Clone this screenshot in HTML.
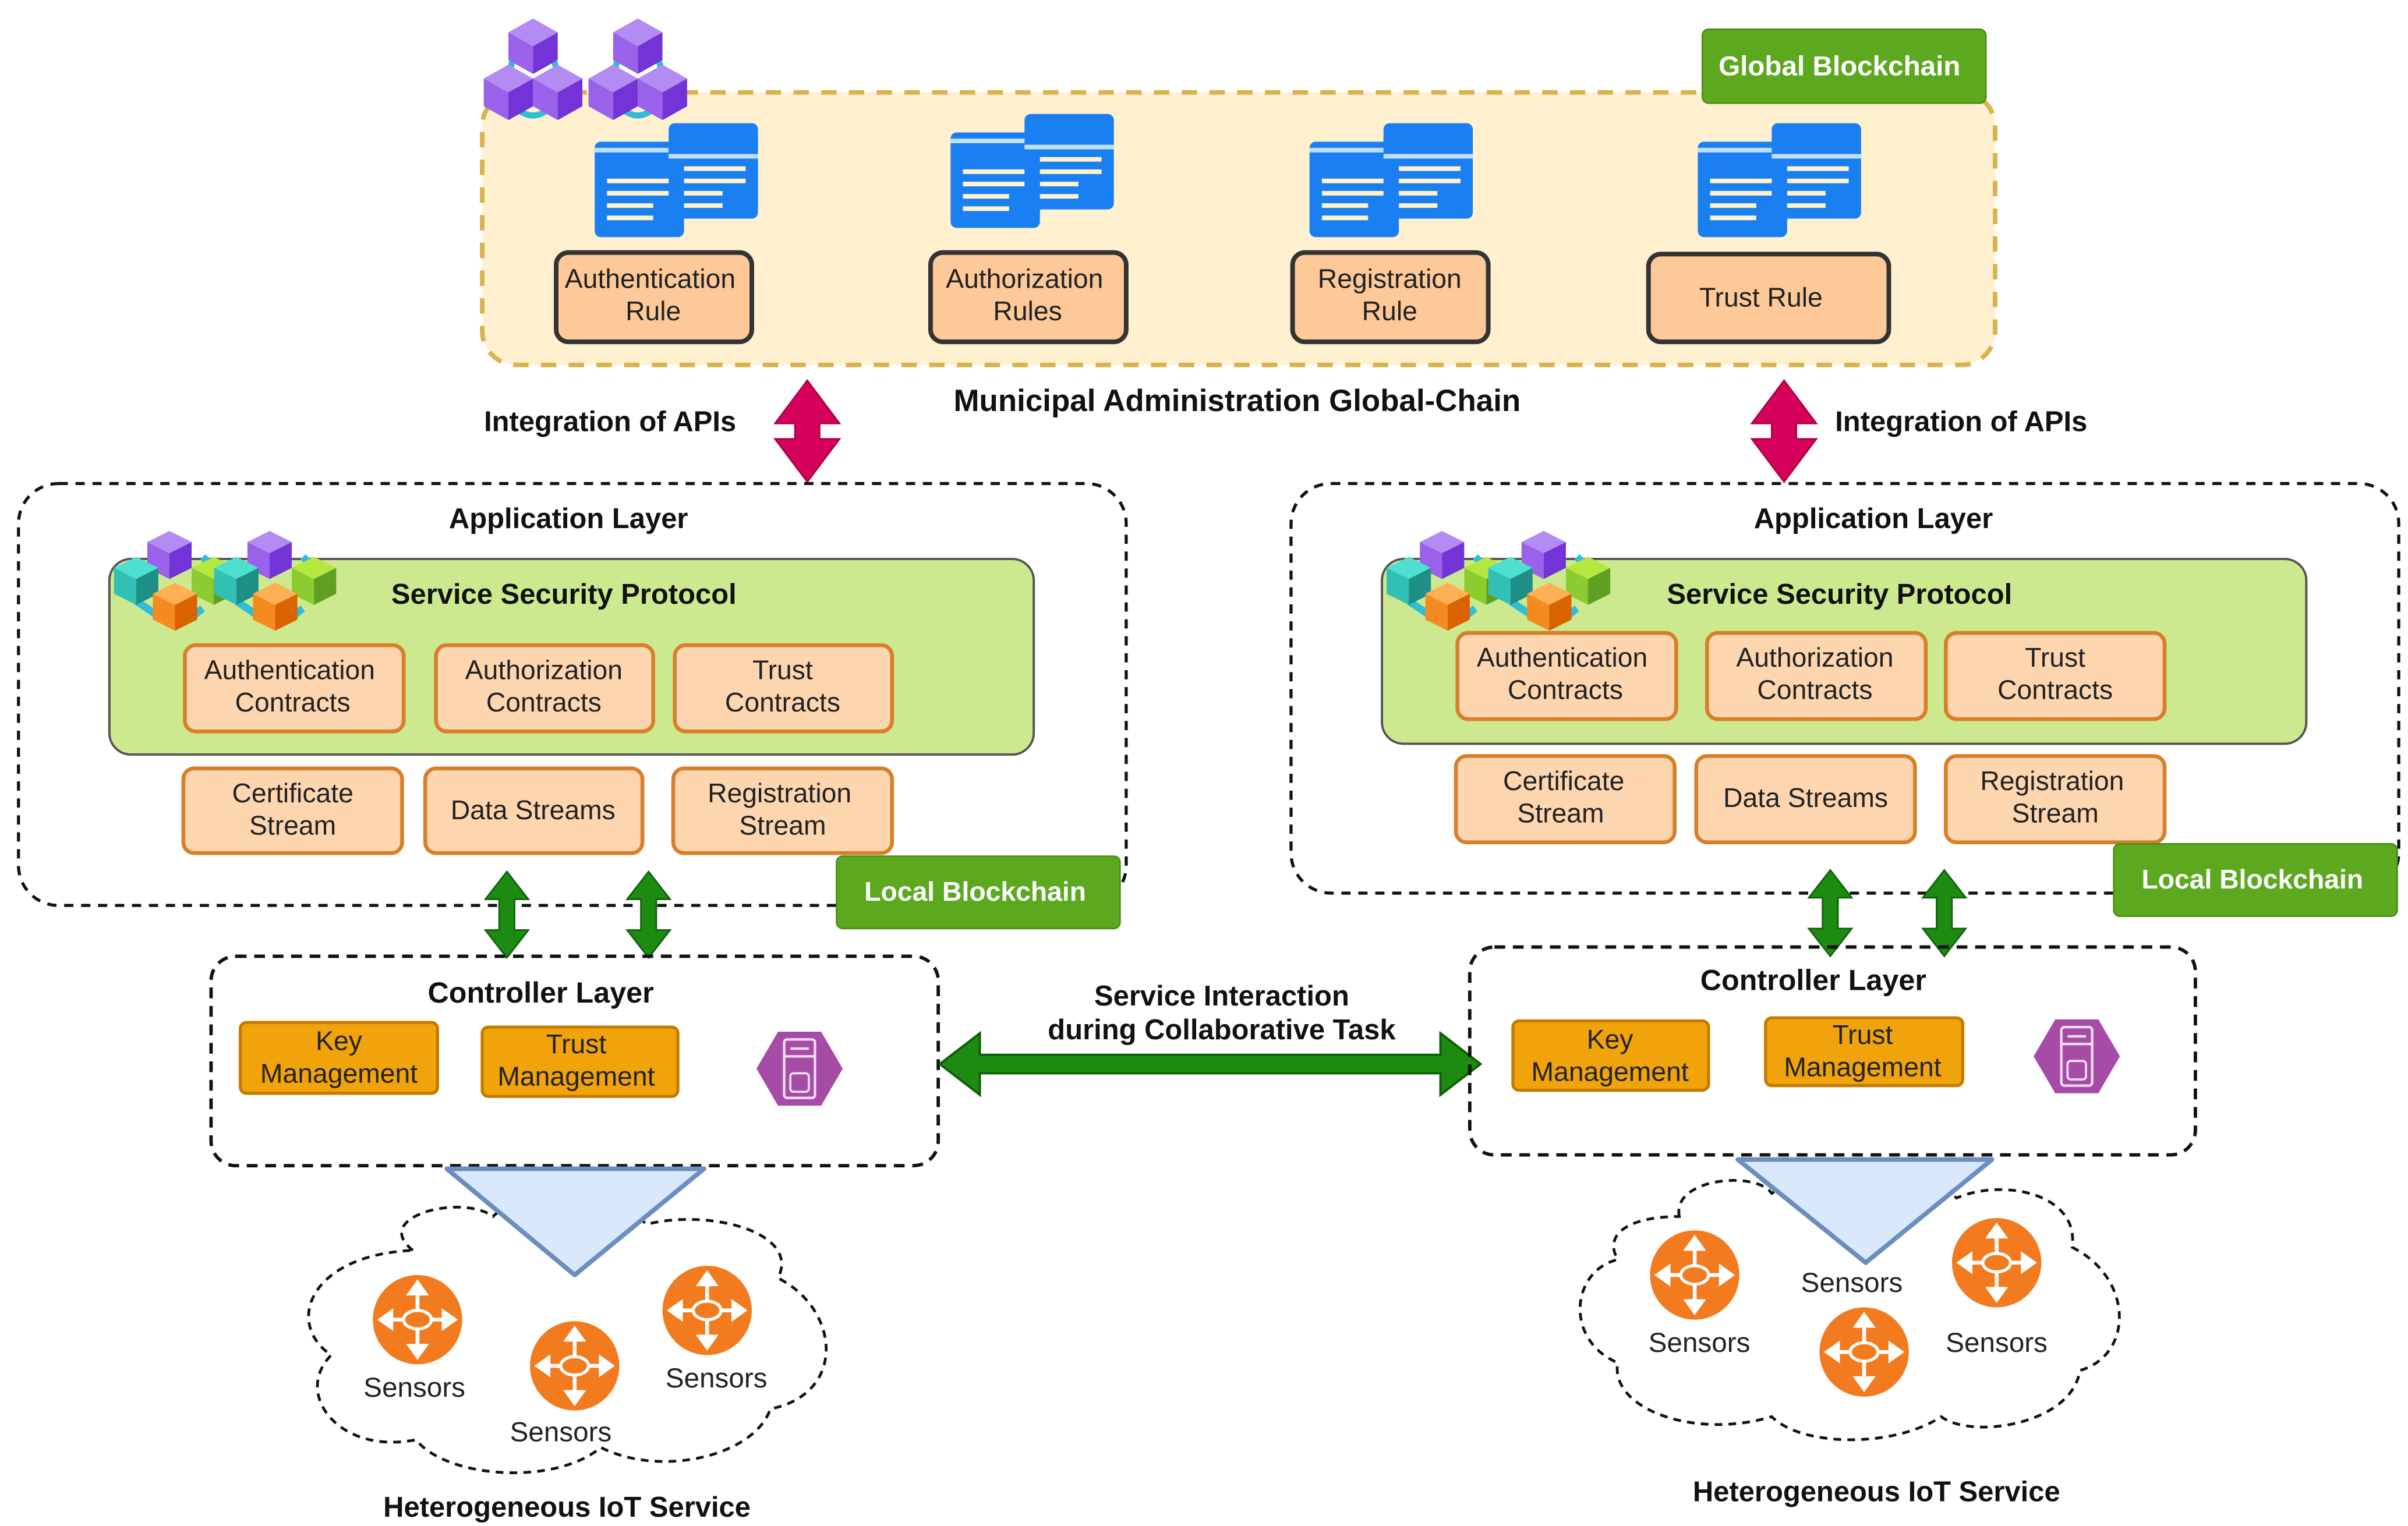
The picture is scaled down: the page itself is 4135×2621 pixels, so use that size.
<!DOCTYPE html>
<html><head><meta charset="utf-8"><style>
html,body{margin:0;padding:0;background:#fff;}
svg{display:block;}
text{font-family:"Liberation Sans",Arial,sans-serif;}
.b{font-weight:bold;fill:#111;font-size:18.5px;}
.t{fill:#222;font-size:17.5px;}
</style></head><body>
<svg width="4135" height="2621" viewBox="0 0 1563 991" preserveAspectRatio="none" xmlns="http://www.w3.org/2000/svg">
<defs>
  <g id="doc">
    <rect x="0" y="12" width="58" height="62" rx="4" fill="#1a7ff0"/>
    <rect x="0" y="16" width="58" height="3" fill="#bfe0ff"/>
    <rect x="48" y="0" width="58" height="62" rx="4" fill="#1a7ff0"/>
    <rect x="48" y="20" width="58" height="3" fill="#bfe0ff"/>
    <g fill="#fff2cc"><rect x="58" y="28" width="40" height="3"/><rect x="58" y="36" width="40" height="3"/><rect x="58" y="44" width="25" height="3"/><rect x="58" y="52" width="25" height="3"/>
    <rect x="8" y="36" width="40" height="3"/><rect x="8" y="44" width="40" height="3"/><rect x="8" y="52" width="30" height="3"/><rect x="8" y="60" width="30" height="3"/></g>
  </g>
  <g id="cube">
    <polygon points="0,-18 16,-9 0,0 -16,-9" fill="#b28cf2"/>
    <polygon points="-16,-9 0,0 0,18 -16,9" fill="#9a62ea"/>
    <polygon points="16,-9 0,0 0,18 16,9" fill="#7433d6"/>
  </g>
  <g id="chain">
    <path d="M20,30 Q14,50 26,58 M46,30 Q54,50 42,58 M22,62 Q33,72 44,62" fill="none" stroke="#32bcd6" stroke-width="4"/>
    <use href="#cube" x="33" y="22"/>
    <use href="#cube" x="17" y="52"/>
    <use href="#cube" x="49" y="52"/>
  </g>
  <g id="blocks">
    <path d="M10,20 L30,8 M48,8 L56,16 M12,32 L24,40 M48,36 L40,42" stroke="#32bcd6" stroke-width="4"/>
    <g><polygon points="30,-6 42,0 30,6 18,0" fill="#b28cf2"/><polygon points="18,0 30,6 30,20 18,14" fill="#9a62ea"/><polygon points="42,0 30,6 30,20 42,14" fill="#7433d6"/></g>
    <g transform="translate(-18,14)"><polygon points="30,-6 42,0 30,6 18,0" fill="#4de0d0"/><polygon points="18,0 30,6 30,20 18,14" fill="#33c0b4"/><polygon points="42,0 30,6 30,20 42,14" fill="#1e8f86"/></g>
    <g transform="translate(24,14)"><polygon points="30,-6 42,0 30,6 18,0" fill="#b6e640"/><polygon points="18,0 30,6 30,20 18,14" fill="#8ccc30"/><polygon points="42,0 30,6 30,20 42,14" fill="#5fa022"/></g>
    <g transform="translate(3,28)"><polygon points="30,-6 42,0 30,6 18,0" fill="#ffb054"/><polygon points="18,0 30,6 30,20 18,14" fill="#f58a20"/><polygon points="42,0 30,6 30,20 42,14" fill="#d86300"/></g>
  </g>
  <g id="hex">
    <polygon points="-28,0 -14,-24 14,-24 28,0 14,24 -14,24" fill="#a64ca6"/>
    <rect x="-10" y="-19" width="20" height="38" rx="2" fill="none" stroke="#f3dff3" stroke-width="1.6"/>
    <line x1="-10" y1="-8" x2="10" y2="-8" stroke="#f3dff3" stroke-width="1.6"/>
    <line x1="-6" y1="-13" x2="6" y2="-13" stroke="#f3dff3" stroke-width="1.6"/>
    <rect x="-6" y="3" width="12" height="12" rx="2" fill="none" stroke="#f3dff3" stroke-width="1.4"/>
  </g>
  <g id="sensor">
    <circle r="29" fill="#f27b1f"/>
    <g stroke="#fff" stroke-width="2.5" fill="#fff">
      <line x1="0" y1="-20" x2="0" y2="20"/><line x1="-20" y1="0" x2="20" y2="0"/>
      <polygon points="0,-24 -5,-17 5,-17"/><polygon points="0,24 -5,17 5,17"/><polygon points="-24,0 -17,-5 -17,5"/><polygon points="24,0 17,-5 17,5"/>
    </g>
    <ellipse cx="0" cy="0" rx="9" ry="6" fill="#f27b1f" stroke="#fff" stroke-width="2"/>
  </g>
  <g id="garrow">
    <polygon points="0,0 -14,18 -5,18 -5,38 -14,38 0,56 14,38 5,38 5,18 14,18" fill="#1d8a12" stroke="#0d5f08" stroke-width="1"/>
  </g>
  <g id="parrow">
    <polygon points="0,0 -21,28 -8,28 -8,38 -21,38 0,66 21,38 8,38 8,28 21,28" fill="#d4005a" stroke="#a80046" stroke-width="1"/>
  </g>
</defs>

<!-- Global chain -->
<rect x="313" y="60" width="982" height="177" rx="22" fill="#fff0cf" stroke="#d8b34e" stroke-width="3" stroke-dasharray="10,8"/>
<rect x="1105" y="19" width="184" height="48" rx="4" fill="#5ca81e" stroke="#4a8d15"/>
<text x="1194" y="49" font-size="18" font-weight="bold" fill="#fff" text-anchor="middle">Global  Blockchain</text>
<use href="#chain" x="313" y="8"/>
<use href="#chain" x="381" y="8"/>
<use href="#doc" x="386" y="80"/>
<use href="#doc" x="617" y="74"/>
<use href="#doc" x="850" y="80"/>
<use href="#doc" x="1102" y="80"/>
<g fill="#fdc998" stroke="#333" stroke-width="3">
<rect x="361" y="164" width="127" height="58" rx="8"/>
<rect x="604" y="164" width="127" height="58" rx="8"/>
<rect x="839" y="164" width="127" height="58" rx="8"/>
<rect x="1070" y="165" width="156" height="57" rx="8"/>
</g>
<g class="t" text-anchor="middle">
<text x="422" y="187">Authentication</text><text x="424" y="208">Rule</text>
<text x="665" y="187">Authorization</text><text x="667" y="208">Rules</text>
<text x="902" y="187">Registration</text><text x="902" y="208">Rule</text>
<text x="1143" y="199">Trust Rule</text>
</g>
<text x="803" y="267" class="b" font-size="20" style="font-size:20px" text-anchor="middle">Municipal Administration Global-Chain</text>
<text x="396" y="280" class="b" text-anchor="middle">Integration of APIs</text>
<text x="1273" y="280" class="b" text-anchor="middle">Integration of APIs</text>
<use href="#parrow" x="524" y="247"/>
<use href="#parrow" x="1158" y="247"/>

<!-- LEFT -->
<rect x="12" y="314" width="719" height="274" rx="26" fill="none" stroke="#111" stroke-width="2" stroke-dasharray="6,5"/>
<text x="369" y="343" class="b" text-anchor="middle">Application Layer</text>
<rect x="71" y="363" width="600" height="127" rx="14" fill="#cde98f" stroke="#555" stroke-width="1.5"/>
<g transform="translate(74,352) scale(1.2)"><use href="#blocks"/></g>
<g transform="translate(139,352) scale(1.2)"><use href="#blocks"/></g>
<text x="366" y="392" class="b" text-anchor="middle">Service Security Protocol</text>
<g fill="#fdd6b0" stroke="#d77f2a" stroke-width="2.5">
<rect x="120" y="419" width="142" height="56" rx="7"/><rect x="283" y="419" width="141" height="56" rx="7"/><rect x="438" y="419" width="141" height="56" rx="7"/>
<rect x="119" y="499" width="142" height="55" rx="7"/><rect x="276" y="499" width="141" height="55" rx="7"/><rect x="437" y="499" width="142" height="55" rx="7"/>
</g>
<g class="t" text-anchor="middle">
<text x="188" y="441">Authentication</text><text x="190" y="462">Contracts</text>
<text x="353" y="441">Authorization</text><text x="353" y="462">Contracts</text>
<text x="508" y="441">Trust</text><text x="508" y="462">Contracts</text>
<text x="190" y="521">Certificate</text><text x="190" y="542">Stream</text>
<text x="346" y="532">Data Streams</text>
<text x="506" y="521">Registration</text><text x="508" y="542">Stream</text>
</g>
<rect x="543" y="556" width="184" height="47" rx="4" fill="#5ca81e" stroke="#4a8d15"/>
<text x="633" y="585" font-size="17.5" font-weight="bold" fill="#fff" text-anchor="middle">Local Blockchain</text>
<use href="#garrow" x="329" y="566"/>
<use href="#garrow" x="421" y="566"/>
<rect x="137" y="621" width="472" height="136" rx="16" fill="none" stroke="#111" stroke-width="2.2" stroke-dasharray="7,5"/>
<text x="351" y="651" class="b" style="font-size:19px" text-anchor="middle">Controller Layer</text>
<g fill="#f0a30a" stroke="#c57a00" stroke-width="2">
<rect x="156" y="664" width="128" height="46" rx="4"/><rect x="313" y="667" width="127" height="45" rx="4"/>
</g>
<g class="t" text-anchor="middle">
<text x="220" y="682">Key</text><text x="220" y="703">Management</text>
<text x="374" y="684">Trust</text><text x="374" y="705">Management</text>
</g>
<use href="#hex" x="519" y="694"/>
<path d="M268,812 C240,790 300,775 320,790 C340,770 400,780 420,795 C460,785 520,800 505,830 C545,850 550,905 500,915 C490,945 430,960 390,940 C360,965 290,960 270,935 C220,945 190,905 215,880 C185,860 200,815 268,812 Z" fill="none" stroke="#111" stroke-width="1.8" stroke-dasharray="5,4"/>
<polygon points="290,759 457,759 373,828" fill="#dae8fc" stroke="#6c8ebf" stroke-width="3" stroke-linejoin="round"/>
<use href="#sensor" x="271" y="857"/>
<use href="#sensor" x="373" y="887"/>
<use href="#sensor" x="459" y="851"/>
<g class="t" text-anchor="middle" style="font-size:18px">
<text x="269" y="907">Sensors</text><text x="364" y="936">Sensors</text><text x="465" y="901">Sensors</text>
</g>
<text x="368" y="985" class="b" text-anchor="middle">Heterogeneous IoT Service</text>

<!-- middle arrow -->
<polygon points="610,691 636,671 636,685 935,685 935,671 961,691 935,711 935,697 636,697 636,711" fill="#1d8a12" stroke="#0d5f08" stroke-width="1.5"/>
<text x="793" y="653" class="b" text-anchor="middle">Service Interaction</text>
<text x="793" y="675" class="b" text-anchor="middle">during Collaborative Task</text>

<!-- RIGHT -->
<rect x="838" y="314" width="719" height="266" rx="26" fill="none" stroke="#111" stroke-width="2" stroke-dasharray="6,5"/>
<text x="1216" y="343" class="b" text-anchor="middle">Application Layer</text>
<rect x="897" y="363" width="600" height="120" rx="14" fill="#cde98f" stroke="#555" stroke-width="1.5"/>
<g transform="translate(900,352) scale(1.2)"><use href="#blocks"/></g>
<g transform="translate(966,352) scale(1.2)"><use href="#blocks"/></g>
<text x="1194" y="392" class="b" text-anchor="middle">Service Security Protocol</text>
<g fill="#fdd6b0" stroke="#d77f2a" stroke-width="2.5">
<rect x="946" y="411" width="142" height="56" rx="7"/><rect x="1108" y="411" width="142" height="56" rx="7"/><rect x="1263" y="411" width="142" height="56" rx="7"/>
<rect x="945" y="491" width="142" height="56" rx="7"/><rect x="1101" y="491" width="142" height="56" rx="7"/><rect x="1263" y="491" width="142" height="56" rx="7"/>
</g>
<g class="t" text-anchor="middle">
<text x="1014" y="433">Authentication</text><text x="1016" y="454">Contracts</text>
<text x="1178" y="433">Authorization</text><text x="1178" y="454">Contracts</text>
<text x="1334" y="433">Trust</text><text x="1334" y="454">Contracts</text>
<text x="1015" y="513">Certificate</text><text x="1013" y="534">Stream</text>
<text x="1172" y="524">Data Streams</text>
<text x="1332" y="513">Registration</text><text x="1334" y="534">Stream</text>
</g>
<rect x="1372" y="548" width="184" height="47" rx="4" fill="#5ca81e" stroke="#4a8d15"/>
<text x="1462" y="577" font-size="17.5" font-weight="bold" fill="#fff" text-anchor="middle">Local Blockchain</text>
<use href="#garrow" x="1188" y="565"/>
<use href="#garrow" x="1262" y="565"/>
<rect x="954" y="615" width="471" height="135" rx="16" fill="none" stroke="#111" stroke-width="2.2" stroke-dasharray="7,5"/>
<text x="1177" y="643" class="b" style="font-size:19px" text-anchor="middle">Controller Layer</text>
<g fill="#f0a30a" stroke="#c57a00" stroke-width="2">
<rect x="982" y="663" width="127" height="45" rx="4"/><rect x="1146" y="661" width="128" height="44" rx="4"/>
</g>
<g class="t" text-anchor="middle">
<text x="1045" y="681">Key</text><text x="1045" y="702">Management</text>
<text x="1209" y="678">Trust</text><text x="1209" y="699">Management</text>
</g>
<use href="#hex" x="1348" y="686"/>
<path d="M1090,790 C1085,765 1140,760 1150,775 C1180,758 1250,760 1270,778 C1300,765 1350,775 1345,810 C1385,830 1385,880 1350,890 C1345,925 1280,935 1260,920 C1230,940 1170,940 1150,920 C1100,935 1045,915 1050,885 C1015,870 1020,825 1050,818 C1040,800 1060,790 1090,790 Z" fill="none" stroke="#111" stroke-width="1.8" stroke-dasharray="5,4"/>
<polygon points="1128,753 1293,753 1211,820" fill="#dae8fc" stroke="#6c8ebf" stroke-width="3" stroke-linejoin="round"/>
<use href="#sensor" x="1100" y="828"/>
<use href="#sensor" x="1296" y="820"/>
<use href="#sensor" x="1210" y="878"/>
<g class="t" text-anchor="middle" style="font-size:18px">
<text x="1202" y="839">Sensors</text><text x="1103" y="878">Sensors</text><text x="1296" y="878">Sensors</text>
</g>
<text x="1218" y="975" class="b" text-anchor="middle">Heterogeneous IoT Service</text>
</svg>
</body></html>
